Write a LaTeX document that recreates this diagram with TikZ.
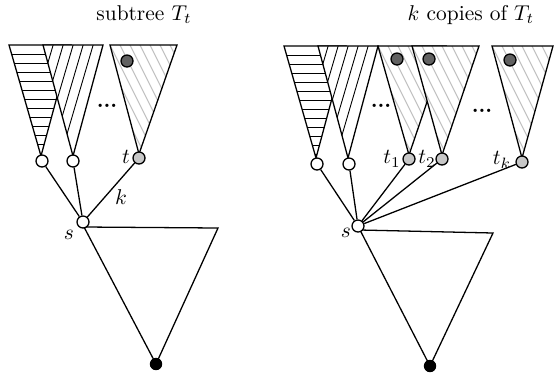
\documentclass[tikz,border=0pt]{standalone}
\newcommand{\hzTri}[5]{%
  \fill[white] (#1,#3) -- (#2,#3) -- (#4,#5) -- cycle;
  \begin{scope}
    \clip (#1,#3) -- (#2,#3) -- (#4,#5) -- cycle;
    \foreach \k in {1,...,13} \draw[hatchline] (#1-5,#3+9*\k) -- (#2+5,#3+9*\k);
  \end{scope}
  \draw[tri] (#1,#3) -- (#2,#3) -- (#4,#5) -- cycle;}
\newcommand{\dgTri}[5]{%
  \fill[white] (#1,#3) -- (#2,#3) -- (#4,#5) -- cycle;
  \begin{scope}
    \clip (#1,#3) -- (#2,#3) -- (#4,#5) -- cycle;
    \foreach \k in {1,...,8} \draw[hatchline] (#2-10*\k+6,#3-20) -- (#2-10*\k-38,#3+130);
  \end{scope}
  \draw[tri] (#1,#3) -- (#2,#3) -- (#4,#5) -- cycle;}
\newcommand{\grTri}[5]{%
  \fill[white] (#1,#3) -- (#2,#3) -- (#4,#5) -- cycle;
  \begin{scope}
    \clip (#1,#3) -- (#2,#3) -- (#4,#5) -- cycle;
    \foreach \k in {0,...,15} \draw[ghatch] (#1-80+10*\k,#3-20) -- (#1-5+10*\k,#3+130);
  \end{scope}
  \draw[tri] (#1,#3) -- (#2,#3) -- (#4,#5) -- cycle;}
\begin{document}
\begin{tikzpicture}[x=0.467pt,y=-0.467pt,
  tri/.style={draw,line width=0.6pt,line join=miter},
  hatchline/.style={line width=0.42pt,black},
  ghatch/.style={line width=0.45pt,black!25},
  vtx/.style={circle,draw,line width=0.6pt,inner sep=0pt,minimum size=5.6pt,fill=white},
  gvtx/.style={vtx,fill=black!22},
  darkdot/.style={circle,draw,line width=0.6pt,inner sep=0pt,minimum size=5.6pt,fill=black!62},
  rootdot/.style={circle,fill=black,inner sep=0pt,minimum size=5.8pt},
  edge/.style={line width=0.6pt},
  lbl/.style={inner sep=0pt}]
\useasboundingbox (0,0) rectangle (555,375);

% titles
\node[anchor=base] (title1) at (144,20) {subtree $T_t$};
\node[anchor=base] (title2) at (471,20) {$k$ copies of $T_t$};

% ---------- left diagram ----------
\hzTri{9}{71}{45}{41}{156}
\dgTri{43}{103}{45}{73}{156}
\grTri{110}{177}{45}{139}{154}
\draw[tri] (84,227) -- (218,228) -- (156,364) -- cycle;

\node[darkdot] (d1) at (127,61) {};
\node (dots1) at (107,106) {\textbf{...}};
\node[vtx] (a1) at (42,161) {};
\node[vtx] (a2) at (73,161) {};
\node[gvtx] (t) at (139,158) {};
\node[vtx] (s) at (83,222) {};
\node[rootdot] (r1) at (156,364) {};

\draw[edge] (a1) -- (s);
\draw[edge] (a2) -- (s);
\draw[edge] (t) -- (s);

\node[lbl] (tl) at (126,157) {$t$};
\node[lbl] (kl) at (121,197) {$k$};
\node[lbl] (sl) at (69,235) {$s$};

% ---------- right diagram ----------
\hzTri{284}{346}{46}{316}{158}
\dgTri{318}{378}{46}{348}{158}
\grTri{378}{446}{46}{409}{155}
\grTri{412}{479}{46}{442}{155}
\grTri{492}{553}{46}{522}{158}
\draw[tri] (360,230) -- (493,233) -- (430,366) -- cycle;

\node[darkdot] (d2) at (397,59) {};
\node[darkdot] (d3) at (429,59) {};
\node[darkdot] (d4) at (510,60) {};
\node (dots2) at (381,106) {\textbf{...}};
\node (dots3) at (482,111) {\textbf{...}};
\node[vtx] (b1) at (317,164) {};
\node[vtx] (b2) at (349,164) {};
\node[gvtx] (t1) at (409,159) {};
\node[gvtx] (t2) at (442,159) {};
\node[gvtx] (tk) at (522,162) {};
\node[vtx] (s2) at (358,226) {};
\node[rootdot] (r2) at (430,366) {};

\draw[edge] (b1) -- (s2);
\draw[edge] (b2) -- (s2);
\draw[edge] (t1) -- (s2);
\draw[edge] (t2) -- (s2);
\draw[edge] (tk) -- (s2);

\node[lbl] (t1l) at (392,159) {$t_1$};
\node[lbl] (t2l) at (427,159) {$t_2$};
\node[lbl] (tkl) at (502,160) {$t_k$};
\node[lbl] (s2l) at (346,233) {$s$};
\end{tikzpicture}
\end{document}
